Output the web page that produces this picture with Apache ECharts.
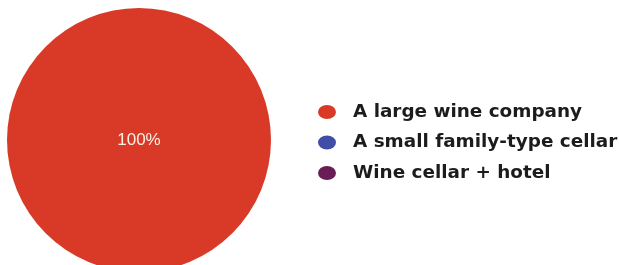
<!DOCTYPE html>
<html>
<head>
<meta charset="utf-8">
<script src="https://cdn.jsdelivr.net/npm/echarts@6/dist/echarts.min.js"></script>
<style>
    html, body { margin: 0; padding: 0; background: #fff; }
    #main { width: 619px; height: 265px; }
</style>
</head>
<body>
<div id="main"></div>
<script>
// 数据
var categories = ['A large wine company', 'A small family-type cellar', 'Wine cellar + hotel'];
var shares = [100, 0, 0];
var colors = ['#d93a27', '#3f4fa7', '#6a1c55'];

var seriesData = categories.map(function (name, i) {
    return {
        name: name,
        value: shares[i],
        label: {show: shares[i] > 0}
    };
});

var myChart = echarts.init(document.getElementById('main'));
myChart.setOption({
    animation: false,
    color: colors,
    legend: {
        orient: 'vertical',
        left: 313,
        top: 97,
        itemWidth: 18,
        itemHeight: 14,
        itemGap: 10.5,
        icon: 'path://M0,7 A9,7 0 1 0 18,7 A9,7 0 1 0 0,7 Z',
        data: categories,
        textStyle: {
            fontFamily: 'DejaVu Sans',
            fontWeight: 'bold',
            fontSize: 18.4,
            lineHeight: 20,
            color: '#1c1c1c',
            padding: [0, 0, 0, 12]
        }
    },
    series: [{
        type: 'pie',
        center: [139, 140],
        radius: 132,
        silent: true,
        label: {
            position: 'center',
            formatter: '{d}%',
            color: '#fbf1e4',
            fontFamily: 'Liberation Sans',
            fontSize: 17
        },
        labelLine: {show: false},
        data: seriesData
    }]
});
</script>
</body>
</html>
